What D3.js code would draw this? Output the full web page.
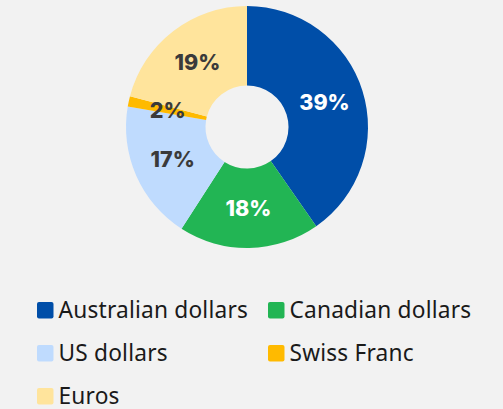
<!DOCTYPE html>
<html>
<head>
<meta charset="utf-8">
<script src="https://cdn.jsdelivr.net/npm/d3@7"></script>
<style>
  html, body { margin: 0; padding: 0; background: #f2f2f2; }
  svg { display: block; }
</style>
</head>
<body>
<svg></svg>
<script>
var width = 503;
var height = 409;

// currency shares: slice sizes estimated from the drawn angles,
// labels are the rounded figures printed on the chart
var currencies = ["Australian dollars", "Canadian dollars", "US dollars", "Swiss Franc", "Euros"];
var shares = [40.3, 18.8, 18.6, 1.4, 20.9];
var shareLabels = ["39%", "18%", "17%", "2%", "19%"];
var colours = ["#004ea8", "#22b554", "#bfdbfe", "#ffba00", "#ffe49c"];
var labelColours = ["#ffffff", "#ffffff", "#3a3a3a", "#3a3a3a", "#3a3a3a"];

var cx = 247, cy = 127;
var outerR = 121, innerR = 41.5;

var svg = d3.select('svg')
  .attr('width', width)
  .attr('height', height);

svg.append('rect')
  .attr('width', width)
  .attr('height', height)
  .attr('fill', '#f2f2f2');

var pie = d3.pie().sort(null).value(function(d){ return d; });
var arcs = pie(shares);

var arc = d3.arc().innerRadius(innerR).outerRadius(outerR);

var g = svg.append('g').attr('transform', 'translate(' + cx + ',' + cy + ')');

g.selectAll('path')
  .data(arcs)
  .enter().append('path')
  .attr('d', arc)
  .attr('fill', function(d, i){ return colours[i]; });

g.selectAll('text')
  .data(arcs)
  .enter().append('text')
  .attr('transform', function(d){ return 'translate(' + arc.centroid(d) + ')'; })
  .attr('text-anchor', 'middle')
  .attr('dy', '0.36em')
  .attr('font-family', 'Inter, sans-serif')
  .attr('font-weight', 800)
  .attr('font-size', 21.5)
  .attr('fill', function(d, i){ return labelColours[i]; })
  .text(function(d, i){ return shareLabels[i]; });

// legend, two columns
var colX = [37, 268];
var rowY = [318, 361, 404]; // baselines

var legend = svg.selectAll('g.legend')
  .data(currencies)
  .enter().append('g')
  .attr('class', 'legend')
  .attr('transform', function(d, i){
    return 'translate(' + colX[i % 2] + ',' + rowY[Math.floor(i / 2)] + ')';
  });

legend.append('rect')
  .attr('x', 0)
  .attr('y', -16)
  .attr('width', 16.5)
  .attr('height', 16.5)
  .attr('rx', 2)
  .attr('fill', function(d, i){ return colours[i]; });

legend.append('text')
  .attr('x', 21.5)
  .attr('font-family', '"Noto Sans", sans-serif')
  .attr('font-size', 22.7)
  .attr('letter-spacing', 0.2)
  .attr('fill', '#1a1a1a')
  .text(function(d){ return d; });
</script>
</body>
</html>
